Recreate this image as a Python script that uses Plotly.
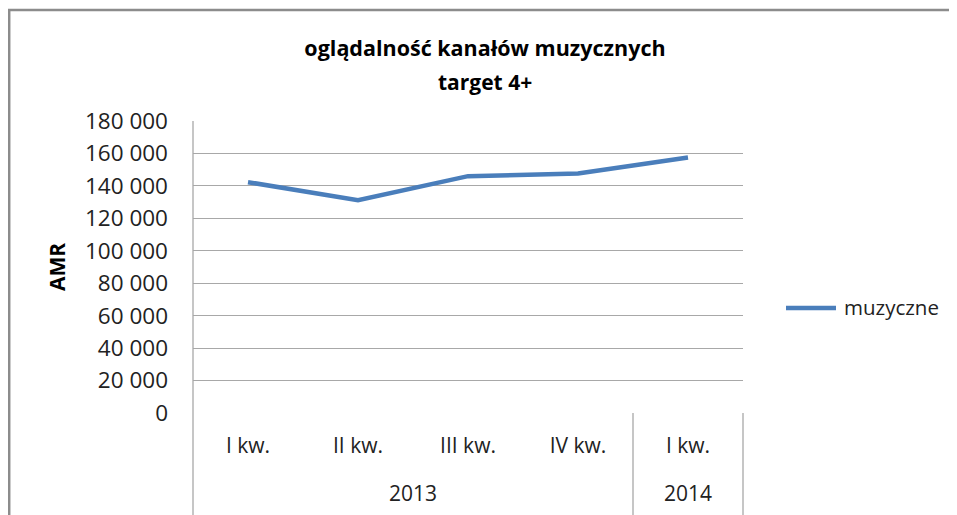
import plotly.graph_objects as go

years = ["2013", "2013", "2013", "2013", "2014"]
quarters = ["I kw.", "II kw.", "III kw.", "IV kw.", "I kw."]
muzyczne = [142300, 131200, 146000, 147600, 157500]
series_name = "muzyczne"
year_labels = ["2013", "2014"]
year_centers = [1.5, 4]
year_dividers = [3.5]

# page body has an 8px margin; work in page pixels and shift
OFF = 8
W, H = 957 - OFF, 515 - OFF
L, R, T, B = 193 - OFF, 743 - OFF, 121 - OFF, 413 - OFF
FONT = "Open Sans"
GRID = "#a8a8a8"
LINE = "#4a7ebb"

x_idx = list(range(len(quarters)))

fig = go.Figure()
fig.add_trace(go.Scatter(
    x=x_idx, y=muzyczne, mode="lines", name=series_name,
    line=dict(color=LINE, width=4.5), showlegend=False,
))

pw, ph = R - L, B - T

def px_x(px):
    return (px - OFF - L) / pw

def px_y(py):
    return (B - (py - OFF)) / ph

annotations = [
    dict(text="target 4+", xref="paper", yref="paper", x=px_x(485), y=px_y(82),
         xanchor="center", yanchor="middle", showarrow=False,
         font=dict(family=FONT, size=21, color="#000", weight="bold")),
    dict(text="AMR", xref="paper", yref="paper", x=px_x(57), y=px_y(267),
         xanchor="center", yanchor="middle", showarrow=False, textangle=-90,
         font=dict(family=FONT, size=21, color="#000", weight="bold")),
    dict(text=series_name, xref="paper", yref="paper", x=px_x(842), y=px_y(307),
         xanchor="left", yanchor="middle", showarrow=False,
         font=dict(family=FONT, size=20.5, color="#222")),
]
for lab, cx in zip(year_labels, year_centers):
    annotations.append(dict(text=lab, xref="x", yref="paper", x=cx, y=px_y(493),
                            xanchor="center", yanchor="middle", showarrow=False,
                            font=dict(family=FONT, size=21, color="#222")))

bottom = px_y(520)
shapes = [
    dict(type="line", xref="paper", yref="paper", x0=0, x1=0, y0=bottom, y1=1,
         line=dict(color=GRID, width=1.3)),
    dict(type="line", xref="paper", yref="paper", x0=1, x1=1, y0=bottom, y1=0,
         line=dict(color=GRID, width=1.3)),
    # outer chart border (top and left)
    dict(type="line", xref="paper", yref="paper", x0=px_x(8), x1=px_x(957),
         y0=px_y(10), y1=px_y(10), line=dict(color="#8c8c8c", width=2.5)),
    dict(type="line", xref="paper", yref="paper", x0=px_x(9.2), x1=px_x(9.2),
         y0=px_y(10), y1=px_y(530), line=dict(color="#8c8c8c", width=2.5)),
    # legend sample
    dict(type="line", xref="paper", yref="paper", x0=px_x(786), x1=px_x(836),
         y0=px_y(308), y1=px_y(308), line=dict(color=LINE, width=4.5)),
]
for d in year_dividers:
    shapes.append(dict(type="line", xref="x", yref="paper", x0=d, x1=d, y0=bottom, y1=0,
                       line=dict(color=GRID, width=1.3)))

fig.update_layout(
    width=W, height=H,
    margin=dict(l=L, r=W - R, t=T, b=H - B, pad=0),
    paper_bgcolor="white", plot_bgcolor="white",
    separators=". ",
    title=dict(text="oglądalność kanałów muzycznych", x=(485 - OFF) / W, xanchor="center",
               y=1 - (48 - OFF) / H, yanchor="middle",
               font=dict(family=FONT, size=21.5, color="#000", weight="bold")),
    showlegend=False,
    annotations=annotations,
    shapes=shapes,
)
fig.update_xaxes(
    range=[-0.5, 4.5], tickmode="array", tickvals=x_idx, ticktext=quarters,
    showgrid=False, zeroline=False, showline=False, ticks="",
    ticklabelstandoff=18,
    tickfont=dict(family=FONT, size=21, color="#222"),
)
fig.update_yaxes(
    range=[0, 180000], dtick=20000, tickformat=",d",
    showgrid=True, gridcolor=GRID, gridwidth=1.3, zeroline=False,
    showline=False, ticks="", ticklabelstandoff=24,
    tickfont=dict(family=FONT, size=22.5, color="#222"),
)
fig.write_html("out.html")
